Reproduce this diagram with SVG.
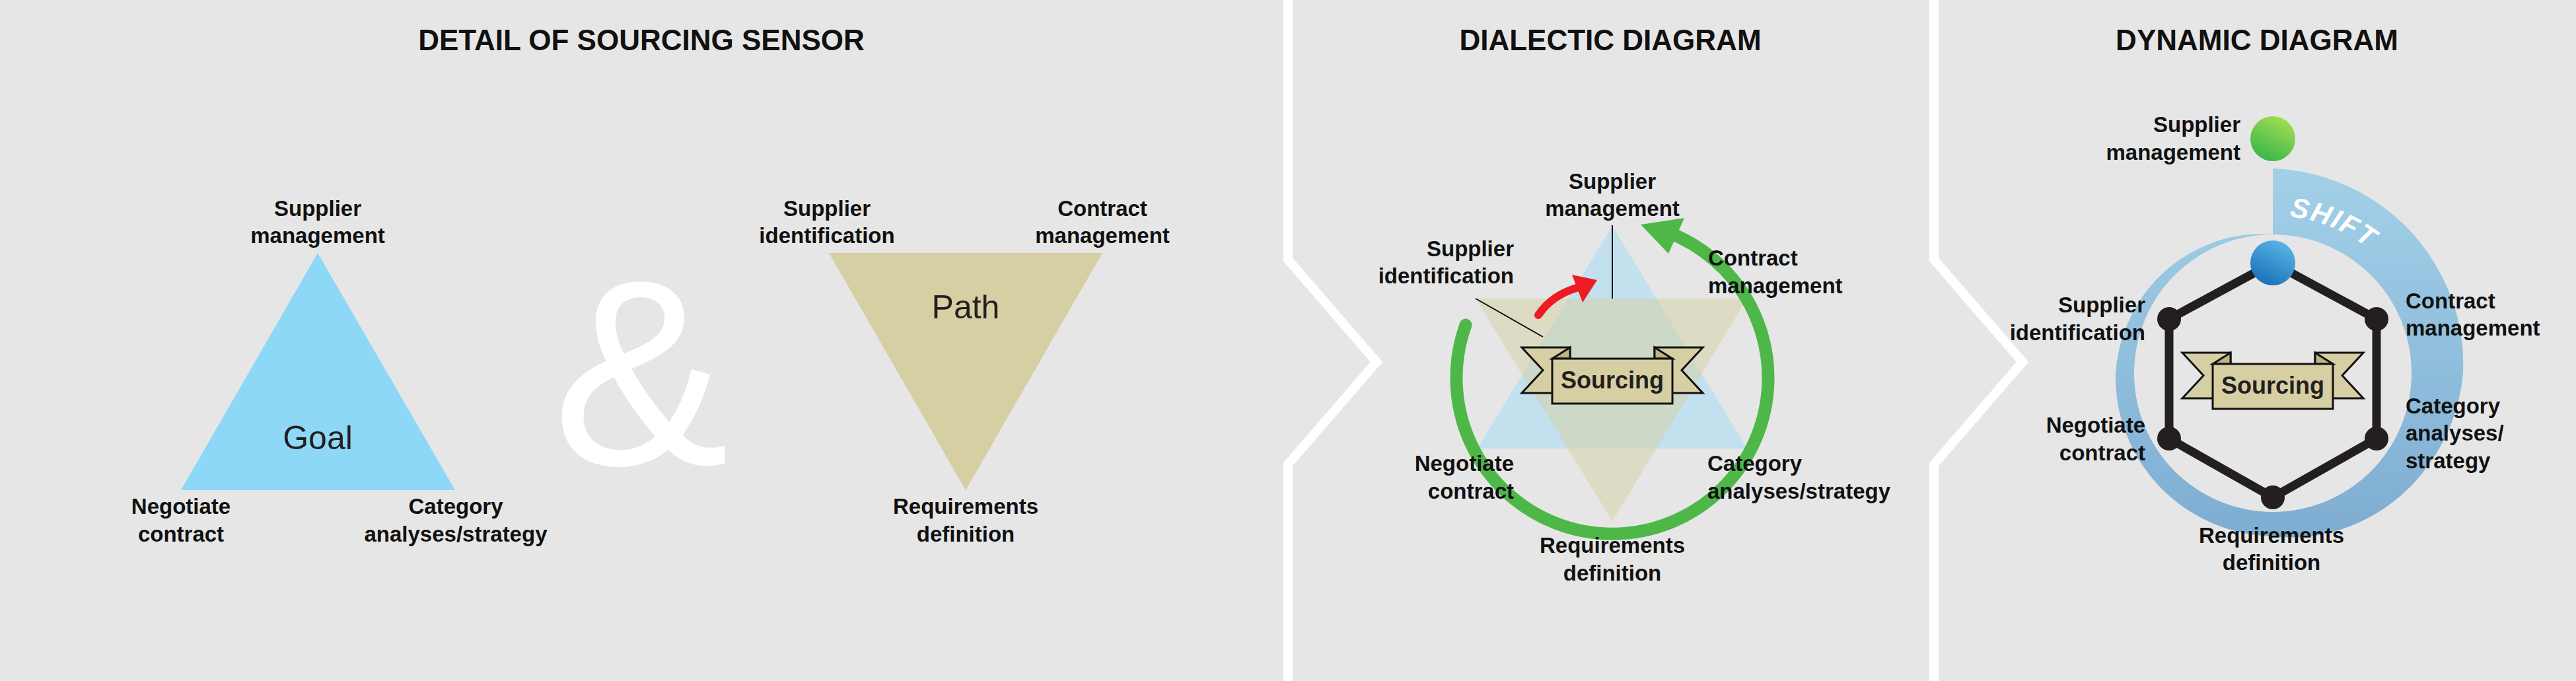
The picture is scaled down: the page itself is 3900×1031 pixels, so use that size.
<svg xmlns="http://www.w3.org/2000/svg" width="3900" height="1031" viewBox="0 0 3900 1031">
<style>
.lb{font-family:"Liberation Sans",Arial,sans-serif;font-weight:bold;font-size:33px;fill:#111}
.tt{font-family:"Liberation Sans",Arial,sans-serif;font-weight:bold;font-size:44px;fill:#111;text-anchor:middle}
.big{font-family:"Liberation Sans",Arial,sans-serif;font-size:50px;fill:#231f20;text-anchor:middle}
.m{text-anchor:middle}.e{text-anchor:end}
.div{fill:none;stroke:#fff;stroke-width:14}
.tan{fill:#d6cfa3;stroke:#111;stroke-width:3;stroke-linejoin:miter}
.fold{fill:#bdb585;stroke:#111;stroke-width:3}
.src{font-family:"Liberation Sans",Arial,sans-serif;font-weight:bold;font-size:36px;fill:#231f20;text-anchor:middle}
</style>
<defs>
<g id="banner">
<polygon class="tan" points="-46,-17 27,-17 27,52 -46,52 -14,17.5"/>
<polygon class="fold" points="0,0 27,-17 27,0"/>
<polygon class="tan" points="228,-17 155,-17 155,52 228,52 196,17.5"/>
<polygon class="fold" points="182,0 155,-17 155,0"/>
<rect class="tan" x="0" y="0" width="182" height="68"/>
<text class="src" x="91" y="45">Sourcing</text>
</g>
<linearGradient id="ring" x1="0" y1="0" x2="0" y2="1"><stop offset="0" stop-color="#a3d0e8"/><stop offset="1" stop-color="#7eadd2"/></linearGradient>
<linearGradient id="gball" x1="0.8" y1="0" x2="0.3" y2="1"><stop offset="0" stop-color="#a6e052"/><stop offset="1" stop-color="#38b54a"/></linearGradient>
<linearGradient id="bball" x1="0.8" y1="0" x2="0.3" y2="1"><stop offset="0" stop-color="#5bb8ea"/><stop offset="1" stop-color="#1a6fb8"/></linearGradient>
<path id="shiftPath" d="M3466,328 A238,238 0 0 1 3647,446"/>
</defs>
<rect x="0" y="0" width="3900" height="1031" fill="#e6e6e6"/>
<g id="dividers">
<polyline class="div" points="1950,0 1950,393 2084,548 1950,703 1950,1031"/>
<polyline class="div" points="2928,0 2928,393 3062,548 2928,703 2928,1031"/>
</g>
<text class="tt" x="971" y="76">DETAIL OF SOURCING SENSOR</text>
<text class="tt" x="2438" y="76">DIALECTIC DIAGRAM</text>
<text class="tt" x="3417" y="76">DYNAMIC DIAGRAM</text>

<g id="goal">
<polygon points="481,383 274,742 689,742" fill="#8dd7f7"/>
<text class="big" x="481" y="680">Goal</text>
<text class="lb m" x="481" y="327">Supplier</text><text class="lb m" x="481" y="368">management</text>
<text class="lb m" x="274" y="778">Negotiate</text><text class="lb m" x="274" y="820">contract</text>
<text class="lb m" x="690" y="778">Category</text><text class="lb m" x="690" y="820">analyses/strategy</text>
</g>
<text x="970" y="703" font-family="Liberation Sans,Arial,sans-serif" font-size="400" fill="#fff" text-anchor="middle">&amp;</text>
<g id="path">
<polygon points="1255,383 1669,383 1462,742" fill="#d6cfa3"/>
<text class="big" x="1462" y="482">Path</text>
<text class="lb m" x="1252" y="327">Supplier</text><text class="lb m" x="1252" y="368">identification</text>
<text class="lb m" x="1669" y="327">Contract</text><text class="lb m" x="1669" y="368">management</text>
<text class="lb m" x="1462" y="778">Requirements</text><text class="lb m" x="1462" y="820">definition</text>
</g>

<g id="dialectic">
<polygon points="2441,342 2237,679 2645,679" fill="#8dd7f7" opacity="0.4"/>
<polygon points="2234,452 2645,452 2441,789" fill="#d6cfa3" opacity="0.5"/>
<path d="M2219,492 A236,236 0 1 0 2538,357" fill="none" stroke="#4db848" stroke-width="19" stroke-linecap="round"/>
<polygon points="2484,340 2550,330 2526,384" fill="#4db848"/>
<path d="M2329,477 Q2350,446 2390,435" fill="none" stroke="#ed1c24" stroke-width="12" stroke-linecap="round"/>
<polygon points="2418,424 2380,416 2396,458" fill="#ed1c24"/>
<line x1="2234" y1="452" x2="2336" y2="510" stroke="#111" stroke-width="2"/>
<line x1="2441" y1="341" x2="2441" y2="452" stroke="#111" stroke-width="2"/>
<use href="#banner" x="2350" y="543"/>
<text class="lb m" x="2441" y="286">Supplier</text><text class="lb m" x="2441" y="327">management</text>
<text class="lb e" x="2292" y="388">Supplier</text><text class="lb e" x="2292" y="429">identification</text>
<text class="lb" x="2586" y="402">Contract</text><text class="lb" x="2586" y="444">management</text>
<text class="lb e" x="2292" y="713">Negotiate</text><text class="lb e" x="2292" y="755">contract</text>
<text class="lb" x="2585" y="713">Category</text><text class="lb" x="2585" y="755">analyses/strategy</text>
<text class="lb m" x="2441" y="837">Requirements</text><text class="lb m" x="2441" y="879">definition</text>
</g>

<g id="dynamic">
<path fill="url(#ring)" d="M3441,355 L3441,255 A306,306 0 0 1 3592.5,302.6 A299,299 0 0 1 3696.5,417.5 A291,291 0 0 1 3729,565 A281,281 0 0 1 3678.3,702 A267,267 0 0 1 3571.5,791 A254,254 0 0 1 3441,812 A245,245 0 0 1 3319,776.3 A242,242 0 0 1 3232.3,685.5 A239,239 0 0 1 3203,565 A233,233 0 0 1 3242.7,450.5 A224,224 0 0 1 3331.5,375.3 A214,214 0 0 1 3441,355 A210,210 0 0 0 3441,775 A210,210 0 0 0 3441,355 Z"/>
<text font-family="Liberation Sans,Arial,sans-serif" font-weight="bold" font-style="italic" font-size="42" fill="#fff" letter-spacing="2"><textPath href="#shiftPath">SHIFT</textPath></text>
<polygon points="3441,398 3598,483 3598,664 3441,753 3284,664 3284,483" fill="none" stroke="#231f20" stroke-width="13" stroke-linejoin="round"/>
<g fill="#231f20"><circle cx="3598" cy="483" r="18"/><circle cx="3598" cy="664" r="18"/><circle cx="3441" cy="753" r="18"/><circle cx="3284" cy="664" r="18"/><circle cx="3284" cy="483" r="18"/></g>
<circle cx="3441" cy="398" r="34" fill="url(#bball)"/>
<circle cx="3441" cy="210" r="34" fill="url(#gball)"/>
<use href="#banner" x="3350" y="551"/>
<text class="lb e" x="3392" y="200">Supplier</text><text class="lb e" x="3392" y="242">management</text>
<text class="lb e" x="3248" y="473">Supplier</text><text class="lb e" x="3248" y="515">identification</text>
<text class="lb" x="3642" y="467">Contract</text><text class="lb" x="3642" y="508">management</text>
<text class="lb e" x="3248" y="655">Negotiate</text><text class="lb e" x="3248" y="697">contract</text>
<text class="lb" x="3642" y="626">Category</text><text class="lb" x="3642" y="667">analyses/</text><text class="lb" x="3642" y="709">strategy</text>
<text class="lb m" x="3439" y="822">Requirements</text><text class="lb m" x="3439" y="863">definition</text>
</g>
</svg>
